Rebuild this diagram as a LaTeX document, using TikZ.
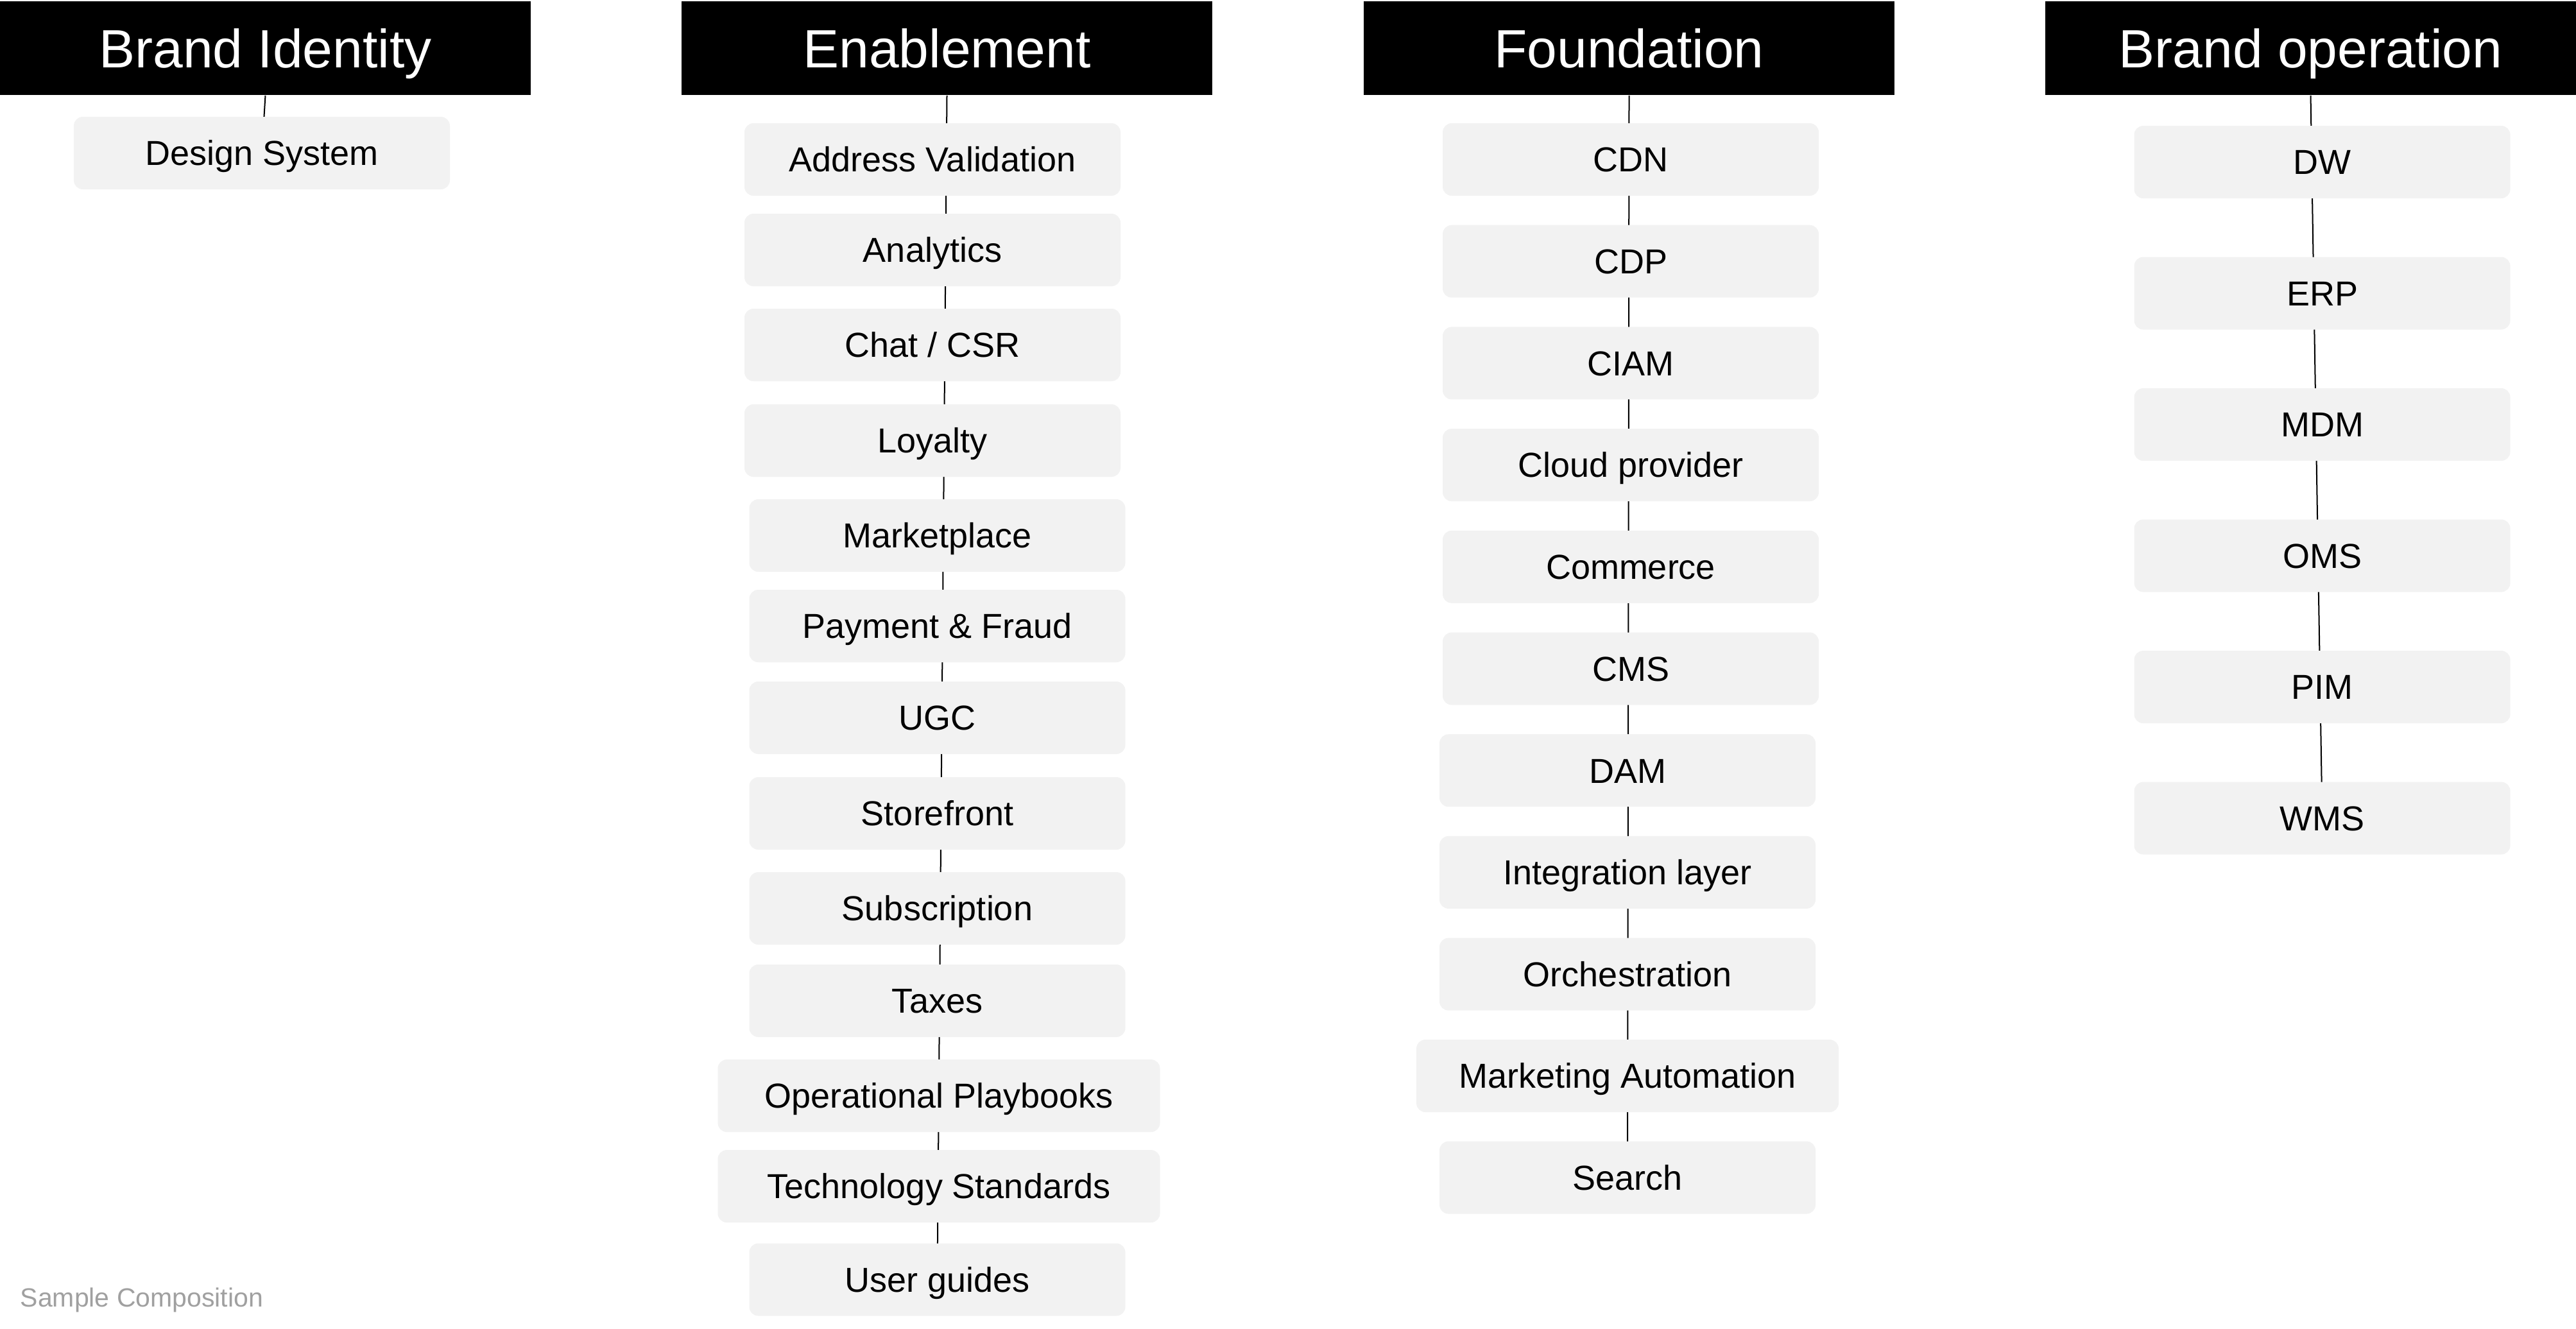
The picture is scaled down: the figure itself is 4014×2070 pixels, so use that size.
\documentclass[tikz,border=0pt]{standalone}
\usepackage{fontspec}
\setmainfont{Liberation Sans}
\usetikzlibrary{backgrounds}
\definecolor{boxfill}{HTML}{F2F2F2}
\definecolor{notegray}{HTML}{A0A0A0}
\begin{document}
\begin{tikzpicture}[x=0.25pt,y=-0.25pt,
  header/.style={fill=black, text=white, minimum width=206.75pt, minimum height=36.5pt, inner sep=0pt,
    font=\fontsize{21}{24}\selectfont, text height=15pt, text depth=0pt},
  item/.style={fill=boxfill, rounded corners=3.5pt, minimum width=146.5pt, minimum height=28.25pt, inner sep=0pt,
    font=\fontsize{13.5}{16}\selectfont, text height=9.67pt, text depth=0pt},
  wideitem/.style={item, minimum width=172.25pt},
  maitem/.style={item, minimum width=164.5pt},
  link/.style={line width=0.5pt, draw=black}]
\useasboundingbox (0,0) rectangle (4014,2070);

% headers
\node[header] (hbi) at (413.5,75) {Brand Identity};
\node[header] (hen) at (1475.5,75) {Enablement};
\node[header] (hfo) at (2538.5,75) {Foundation};
\node[header] (hbo) at (3600.5,75) {Brand operation};

% Brand Identity
\node[item] (ds) at (408,238.5) {Design System};

% Enablement
\node[item] (e1) at (1453,248.5) {Address Validation};
\node[item] (e2) at (1453,389.5) {Analytics};
\node[item] (e3) at (1453,537.5) {Chat / CSR};
\node[item] (e4) at (1453,686.5) {Loyalty};
\node[item] (e5) at (1460.5,834.5) {Marketplace};
\node[item] (e6) at (1460.5,975.5) {Payment \& Fraud};
\node[item] (e7) at (1460.5,1118.5) {UGC};
\node[item] (e8) at (1460.5,1267.5) {Storefront};
\node[item] (e9) at (1460.5,1415.5) {Subscription};
\node[item] (e10) at (1460.5,1559.5) {Taxes};
\node[wideitem] (e11) at (1463,1707.5) {Operational Playbooks};
\node[wideitem] (e12) at (1463,1848.5) {Technology Standards};
\node[item] (e13) at (1460.5,1994) {User guides};

% Foundation
\node[item] (f1) at (2541,248.5) {CDN};
\node[item] (f2) at (2541,407.2) {CDP};
\node[item] (f3) at (2541,565.9) {CIAM};
\node[item] (f4) at (2541,724.6) {Cloud provider};
\node[item] (f5) at (2541,883.3) {Commerce};
\node[item] (f6) at (2541,1042) {CMS};
\node[item] (f7) at (2536,1200.7) {DAM};
\node[item] (f8) at (2536,1359.4) {Integration layer};
\node[item] (f9) at (2536,1518.1) {Orchestration};
\node[maitem] (f10) at (2536,1676.5) {Marketing Automation};
\node[item] (f11) at (2536,1835) {Search};

% Brand operation
\node[item] (b1) at (3618.5,252.5) {DW};
\node[item] (b2) at (3618.5,457) {ERP};
\node[item] (b3) at (3618.5,661.5) {MDM};
\node[item] (b4) at (3618.5,866) {OMS};
\node[item] (b5) at (3618.5,1070.5) {PIM};
\node[item] (b6) at (3618.5,1275) {WMS};

% footer note
\node[anchor=base west, inner sep=0pt, text=notegray, font=\fontsize{10.25}{12}\selectfont] (note) at (31,2036) {Sample Composition};

% connectors (behind the boxes)
\begin{scope}[on background layer]
  \draw[link] (hbi.south) -- (ds.center);
  \draw[link] (hen.south) -- (e13.center);
  \draw[link] (hfo.south) -- (f11.center);
  \draw[link] (hbo.south) -- (b6.center);
\end{scope}
\end{tikzpicture}
\end{document}
